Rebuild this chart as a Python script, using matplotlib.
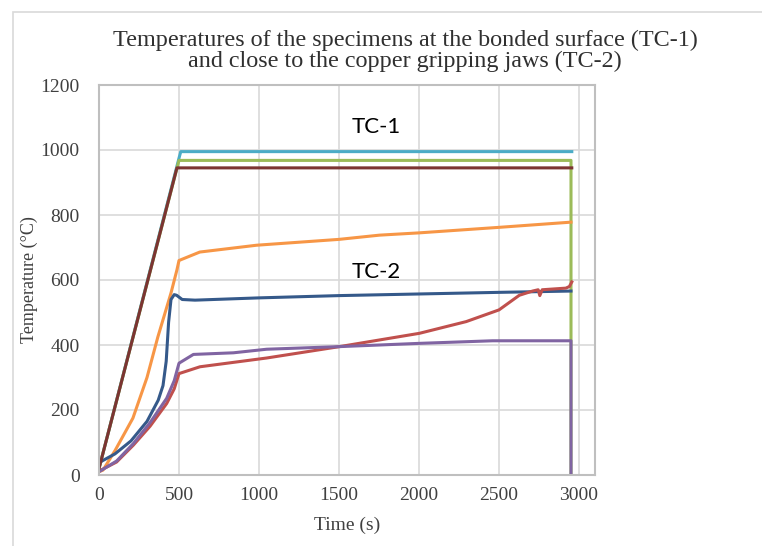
import matplotlib
matplotlib.use("Agg")
import matplotlib.pyplot as plt
from matplotlib.patches import Rectangle

# TC-1 curves (bonded surface)
t_cyan = [0, 500, 511, 2955]
T_cyan = [20, 975, 995, 995]

t_green = [0, 500, 2950, 2950]
T_green = [20, 968, 968, 0]

t_brown = [0, 487, 2955]
T_brown = [20, 945, 945]

t_orange = [0, 25, 100, 212, 300, 368, 450, 487, 500, 630, 985, 1500, 1753, 2000, 2500, 2950]
T_orange = [10, 15, 75, 175, 300, 425, 560, 631, 660, 686, 707, 725, 738, 745, 762, 778]

# TC-2 curves (close to the copper jaws)
t_blue = [0, 100, 200, 300, 370, 400, 420, 435, 450, 470, 485, 520, 600, 1000, 1500, 2000, 2500, 2950]
T_blue = [38, 65, 105, 165, 230, 275, 350, 470, 540, 555, 553, 540, 538, 545, 552, 557, 562, 566]

t_red = [0, 110, 215, 319, 423, 470, 500, 631, 1048, 1503, 2003, 2295, 2500, 2627, 2710, 2745, 2755, 2770, 2918, 2940, 2955]
T_red = [12, 40, 92, 150, 220, 265, 312, 333, 360, 395, 436, 472, 508, 553, 566, 570, 552, 570, 575, 580, 594]

t_purple = [0, 110, 215, 319, 423, 470, 500, 590, 840, 1048, 1503, 2000, 2460, 2950, 2950]
T_purple = [10, 43, 97, 161, 236, 290, 344, 371, 376, 387, 395, 405, 413, 413, 0]

series = [
    (t_cyan, T_cyan, "#4BACC6"),
    (t_green, T_green, "#9BBB59"),
    (t_orange, T_orange, "#F79646"),
    (t_blue, T_blue, "#35598A"),
    (t_red, T_red, "#C0504D"),
    (t_purple, T_purple, "#8064A2"),
    (t_brown, T_brown, "#7B3432"),
]

fig = plt.figure(figsize=(7.62, 5.46), dpi=100)
ax = fig.add_axes([99/762, 1-475/546, (595-99)/762, (475-85)/546])

for t, T, c in series:
    ax.plot(t, T, color=c, lw=2.2, solid_joinstyle="round")

ax.set_xlim(0, 3100)
ax.set_ylim(0, 1200)
ax.set_xticks([0, 500, 1000, 1500, 2000, 2500, 3000])
ax.set_yticks([0, 200, 400, 600, 800, 1000, 1200])
ax.grid(True, color="#D9D9D9", lw=1.2)
ax.set_axisbelow(True)
for s in ax.spines.values():
    s.set_color("#BFBFBF")
    s.set_linewidth(1.5)
ax.tick_params(length=0, labelsize=14, labelcolor="#404040")
ax.tick_params(axis="y", pad=14)
ax.tick_params(axis="x", pad=9)
for lab in ax.get_xticklabels() + ax.get_yticklabels():
    lab.set_family("Liberation Serif")

ax.set_xlabel("Time (s)", family="Liberation Serif", fontsize=14, color="#404040", labelpad=9)
ax.set_ylabel("Temperature (°C)", family="Liberation Serif", fontsize=13, color="#404040", labelpad=2)

ax.text(1580, 1071, "TC-1", family="Lato", fontsize=16, va="center", ha="left")
ax.text(1580, 625, "TC-2", family="Lato", fontsize=16, va="center", ha="left")

fig.text(405/762, 1-51/546,
         "Temperatures of the specimens at the bonded surface (TC-1)\nand close to the copper gripping jaws (TC-2)",
         family="Liberation Serif", fontsize=17.4, ha="center", va="center", color="#303030",
         linespacing=0.95)

fig.add_artist(Rectangle((13/762, -0.1), 1.2, 1.1 - 12/546, transform=fig.transFigure,
                         fill=False, edgecolor="#D9D9D9", lw=1.2))

fig.savefig("out.png", dpi=100)
